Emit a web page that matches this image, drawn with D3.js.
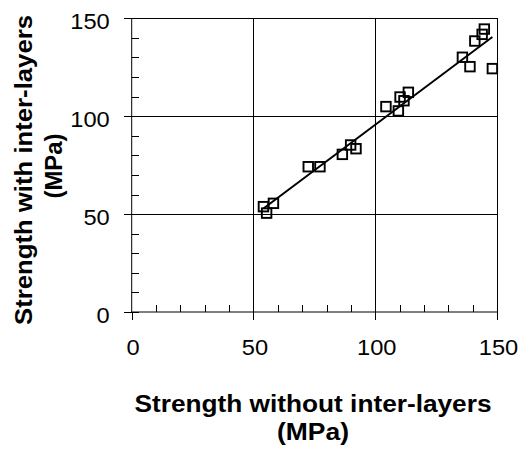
<!DOCTYPE html>
<html>
<head>
<meta charset="utf-8">
<script src="https://cdn.jsdelivr.net/npm/d3@7"></script>
<style>
  html, body { margin: 0; padding: 0; background: #fff; }
  svg { display: block; font-family: Arial, "Liberation Sans", sans-serif; }
</style>
</head>
<body>
<svg id="chart" width="521" height="455"></svg>
<script>
// Strength measured without inter-layers (x) and with inter-layers (y), MPa
const strengthWithout = [54.1, 55.4, 58.2, 72.5, 77.3, 86.5, 89.9, 92.1, 104.4, 109.5, 110.2, 111.8, 113.6, 135.8, 138.9, 140.9, 143.9, 144.8, 148.1];
const strengthWith    = [53.8, 50.5, 55.5, 74.2, 74.2, 80.5, 85.3, 83.4, 104.9, 102.7, 109.8, 107.9, 112.2, 130.1, 125.3, 138.4, 141.8, 144.5, 124.3];
const majorTicks = [0, 50, 100, 150];
const minorTicks = [10, 20, 30, 40, 60, 70, 80, 90, 110, 120, 130, 140];
const xTitle = ["Strength without inter-layers", "(MPa)"];
const yTitle = ["Strength with inter-layers", "(MPa)"];

const svg = d3.select("#chart");
const plot = { left: 131.7, right: 497, top: 18.3, bottom: 312 };

const x = d3.scaleLinear().domain([0, 150]).range([plot.left, plot.right]);
const y = d3.scaleLinear().domain([0, 150]).range([plot.bottom, plot.top]);

const points = strengthWithout.map((v, i) => ({ x: v, y: strengthWith[i] }));

// Widen glyphs horizontally by a factor while keeping their height
function widen(sel, factor) {
  sel.each(function () {
    const w = this.getComputedTextLength();
    d3.select(this).attr("lengthAdjust", "spacingAndGlyphs").attr("textLength", w * factor);
  });
}

// Grid lines at the major ticks (the 150 lines close the frame)
const grid = svg.append("g").attr("stroke", "#000").attr("stroke-width", 1).attr("shape-rendering", "crispEdges");
grid.selectAll(".gx").data(majorTicks.slice(1)).join("line")
  .attr("x1", d => x(d)).attr("x2", d => x(d))
  .attr("y1", plot.top).attr("y2", plot.bottom);
grid.selectAll(".gy").data(majorTicks.slice(1)).join("line")
  .attr("x1", plot.left).attr("x2", plot.right)
  .attr("y1", d => y(d)).attr("y2", d => y(d));

// Bottom axis: major ticks point outward, minor ticks point inward
const xAxisMajor = d3.axisBottom(x).tickValues(majorTicks).tickSize(8).tickFormat(d3.format("d"));
const gx = svg.append("g").attr("transform", `translate(0,${plot.bottom})`).call(xAxisMajor);
gx.select(".domain").remove();
gx.append("line").attr("x1", plot.left).attr("x2", plot.right).attr("stroke", "#000");
gx.selectAll("text").attr("y", 42.5).attr("dy", null).attr("dx", 1);
const gxMinor = svg.append("g").attr("transform", `translate(0,${plot.bottom})`)
  .call(d3.axisTop(x).tickValues(minorTicks).tickSize(7).tickFormat(""));
gxMinor.select(".domain").remove();

// Left axis: major ticks cross the axis, minor ticks point inward
const yAxisMajor = d3.axisLeft(y).tickValues(majorTicks).tickSize(8).tickPadding(14).tickFormat(d3.format("d"));
const gy = svg.append("g").attr("transform", `translate(${plot.left},0)`).call(yAxisMajor);
gy.select(".domain").remove();
gy.append("line").attr("y1", plot.top).attr("y2", plot.bottom).attr("stroke", "#000");
gy.selectAll("text").attr("dy", 10.5);
const gyInner = svg.append("g").attr("transform", `translate(${plot.left},0)`)
  .call(d3.axisRight(y).tickValues(majorTicks.concat(minorTicks)).tickSize(7).tickFormat(""));
gyInner.select(".domain").remove();

const tickText = svg.selectAll(".tick text")
  .attr("fill", "#000").attr("font-size", 21.5).attr("font-family", "Arial, 'Liberation Sans', sans-serif");
widen(tickText, 1.1);
svg.selectAll(".tick line").attr("stroke", "#000").attr("shape-rendering", "crispEdges");

// Least-squares fit drawn across the data range
const mx = d3.mean(points, d => d.x), my = d3.mean(points, d => d.y);
const slope = d3.sum(points, d => (d.x - mx) * (d.y - my)) / d3.sum(points, d => (d.x - mx) ** 2);
const intercept = my - slope * mx;
const [xMin, xMax] = d3.extent(points, d => d.x);
svg.append("line")
  .attr("x1", x(xMin)).attr("y1", y(intercept + slope * xMin))
  .attr("x2", x(xMax)).attr("y2", y(intercept + slope * xMax))
  .attr("stroke", "#000").attr("stroke-width", 2);

// Square markers
const s = 9.5;
svg.append("g").selectAll("rect").data(points).join("rect")
  .attr("x", d => x(d.x) - s / 2).attr("y", d => y(d.y) - s / 2)
  .attr("width", s).attr("height", s)
  .attr("fill", "none").attr("stroke", "#000").attr("stroke-width", 1.9);

// Axis titles
const titleLengths = [357, 72];
svg.append("g").selectAll("text").data(xTitle).join("text")
  .attr("x", 313).attr("y", (d, i) => 412 + i * 28)
  .attr("text-anchor", "middle").attr("font-weight", "bold").attr("font-size", 23).attr("fill", "#000")
  .attr("lengthAdjust", "spacingAndGlyphs").attr("textLength", (d, i) => titleLengths[i])
  .text(d => d);

// Rotated title: each line has its own vertical centre and length
const yTitleLengths = [310, 65];
const yTitleCentres = [170, 166];
svg.append("g").selectAll("text").data(yTitle).join("text")
  .attr("transform", (d, i) => `translate(${31.5 + i * 30},${yTitleCentres[i]}) rotate(-90)`)
  .attr("text-anchor", "middle").attr("font-weight", "bold").attr("font-size", 23).attr("fill", "#000")
  .attr("lengthAdjust", "spacingAndGlyphs").attr("textLength", (d, i) => yTitleLengths[i])
  .text(d => d);
</script>
</body>
</html>
